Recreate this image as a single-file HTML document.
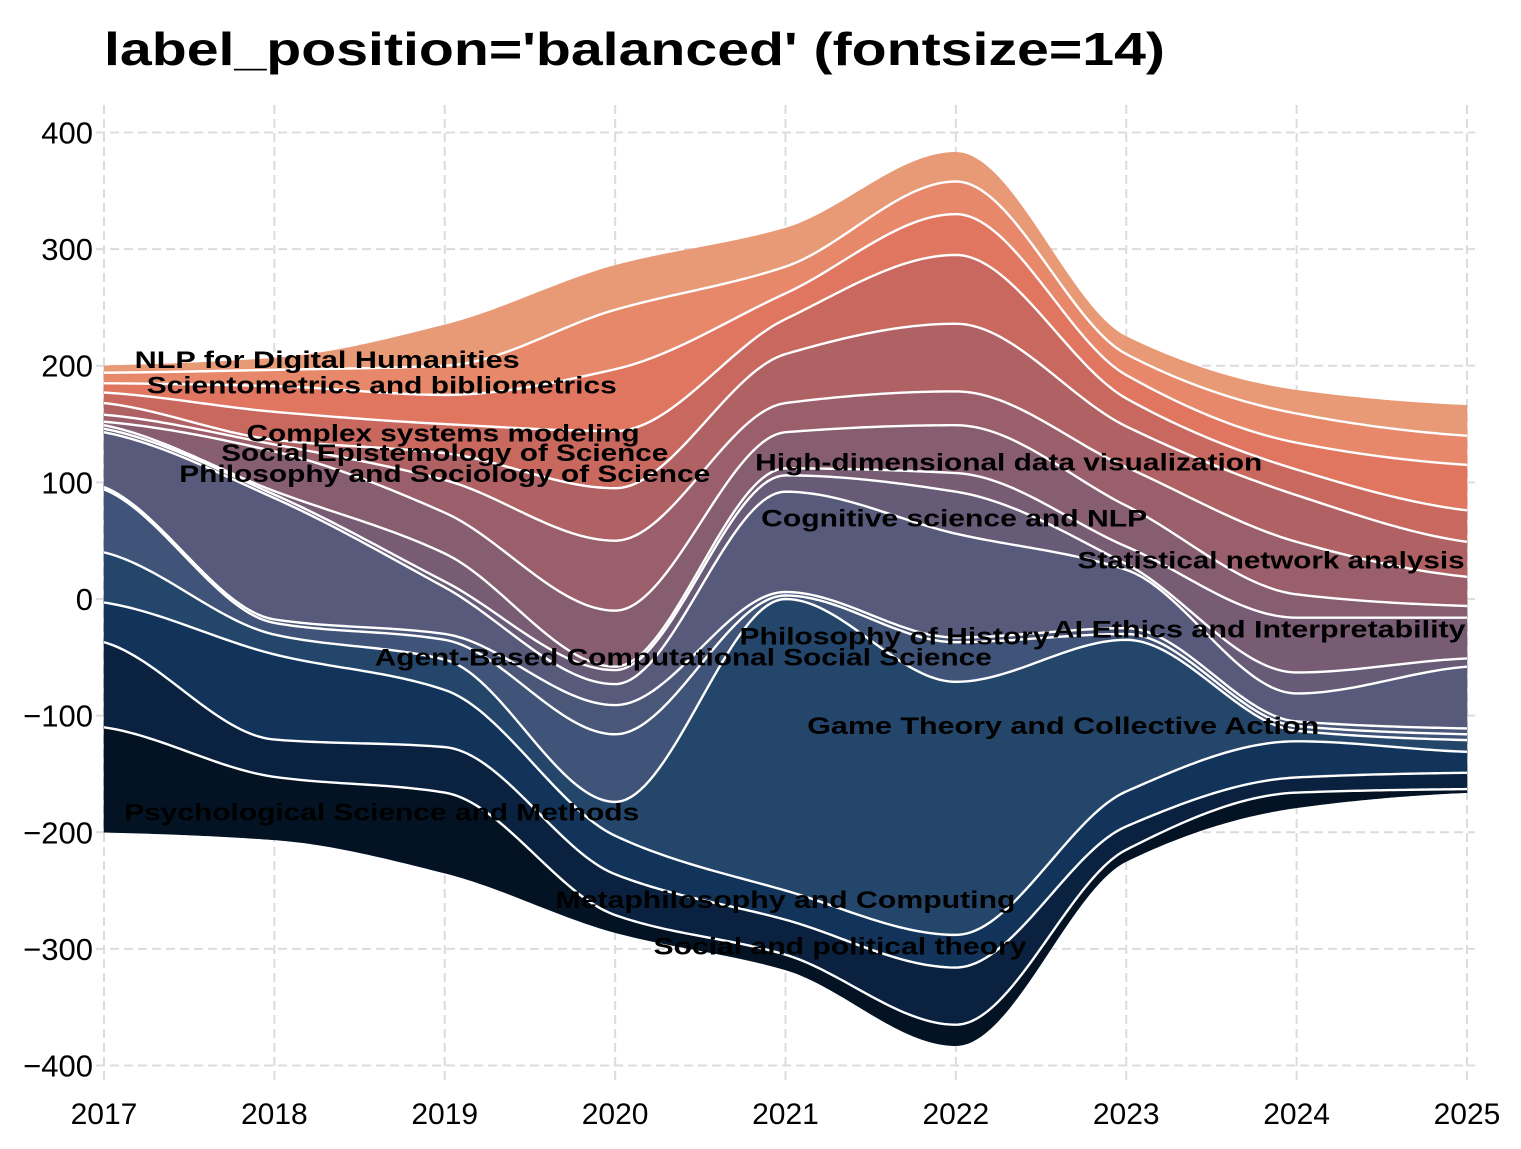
<!DOCTYPE html>
<html><head><meta charset="utf-8"><style>
html,body{margin:0;padding:0;background:#fff;}
svg{display:block;font-family:"Liberation Sans",sans-serif;}
</style></head><body>
<svg id="chart" width="1521" height="1149" viewBox="0 0 1521 1149" xmlns="http://www.w3.org/2000/svg">
<text x="104" y="65" font-size="46" font-weight="bold" textLength="1061" lengthAdjust="spacingAndGlyphs">label_position='balanced' (fontsize=14)</text>
<g id="grid"></g>
<g id="layers"></g>
<g id="axes"></g>
<g id="labels"></g>
</svg>
<script>
const years = [2017,2018,2019,2020,2021,2022,2023,2024,2025];
const seriesNames = ["Psychological Science and Methods","Social and political theory","Metaphilosophy and Computing","Game Theory and Collective Action","Agent-Based Computational Social Science","Philosophy of History","Cognitive science and NLP","High-dimensional data visualization","Philosophy and Sociology of Science","Social Epistemology of Science","Complex systems modeling","Statistical network analysis","AI Ethics and Interpretability","Scientometrics and bibliometrics","NLP for Digital Humanities","Other topics"];
const sPsych   = [90,54,69,15,13,18,10,13,3];
const sSocPol  = [73,32,39,35,30,49,20,13,14];
const sMeta    = [34,73,49,33,25,28,30,31,18];
const sGame    = [43,17,26,29,250,217,130,9,10];
const sAgent   = [54,10,17,58,3,34,5,4,5];
const sHist    = [2,3,5,25,3,4,5,4,5];
const sCog     = [47,104,40,18,86,89,50,24,53];
const sHighDim = [3,3,5,12,14,36,5,18,7];
const sPhilSoc = [3,3,24,3,6,16,15,47,35];
const sSocEp   = [3,34,35,48,31,41,35,20,10];
const sComplex = [6,6,28,60,25,29,33,45,25];
const sStat    = [10,4,23,45,42,58,35,40,30];
const sAI      = [9,24,25,49,30,59,24,22,27];
const sSciento = [8,22,25,53,22,35,20,23,39];
const sNLP     = [9,14,25,51,23,28,18,25,25];
const sTop     = [6,10,35,38,33,25,15,20,26];
const yTicks = [-400,-300,-200,-100,0,100,200,300,400];
const labelNames = ["NLP for Digital Humanities","Scientometrics and bibliometrics","Complex systems modeling","Social Epistemology of Science","Philosophy and Sociology of Science","High-dimensional data visualization","Cognitive science and NLP","Statistical network analysis","AI Ethics and Interpretability","Philosophy of History","Agent-Based Computational Social Science","Game Theory and Collective Action","Psychological Science and Methods","Metaphilosophy and Computing","Social and political theory"];
const labelYear = [2018.31,2018.63,2018.99,2019.0,2019.0,2022.31,2021.99,2023.85,2023.78,2021.64,2020.40,2022.63,2018.63,2021.0,2021.32];
const labelVal  = [205,183,142,125,107,117,69,33,-26,-32,-50,-109,-183,-258,-298];
const labelW    = [385,470,393,447,531,507,386,387,413,310,617,512,515,460,373];

const series = [sPsych,sSocPol,sMeta,sGame,sAgent,sHist,sCog,sHighDim,sPhilSoc,sSocEp,sComplex,sStat,sAI,sSciento,sNLP,sTop];
const colors = ["#031324","#0a2240","#12345a","#24466b","#3f5478","#4b5779","#575a7a","#675b77","#775c74","#875e70","#9a5f6a","#b06164","#c8685f","#e07560","#e8886a","#e89a76"];
const NS="http://www.w3.org/2000/svg";
const X0=104,X1=1467,Y0=599,PXU=1.1663;
const xs=y=>X0+(y-years[0])*(X1-X0)/(years[years.length-1]-years[0]);
const ys=v=>Y0-v*PXU;
function mk(tag,attrs,parent){const e=document.createElementNS(NS,tag);for(const k in attrs)e.setAttribute(k,attrs[k]);parent.appendChild(e);return e;}

const grid=document.getElementById('grid');
years.forEach(yr=>{const l=mk('line',{x1:xs(yr),x2:xs(yr),y1:105,y2:1082,stroke:'#dcdcdc','stroke-width':2,'stroke-dasharray':'9,5'},grid);

});
yTicks.forEach(t=>{const l=mk('line',{x1:96,x2:1475,y1:ys(t),y2:ys(t),stroke:'#dcdcdc','stroke-width':2,'stroke-dasharray':'9,5'},grid);

});

function pchip(xv,yv){const n=xv.length,h=[],d=[],m=new Array(n);
for(let i=0;i<n-1;i++){h.push(xv[i+1]-xv[i]);d.push((yv[i+1]-yv[i])/h[i]);}
for(let i=1;i<n-1;i++){if(d[i-1]*d[i]<=0)m[i]=0;else{const w1=2*h[i]+h[i-1],w2=h[i]+2*h[i-1];m[i]=(w1+w2)/(w1/d[i-1]+w2/d[i]);}}
m[0]=d[0]*0.5;m[n-1]=d[n-2]*0.5;
return x=>{let i=Math.min(n-2,Math.max(0,Math.floor(x-xv[0])));const t=(x-xv[i])/h[i],t2=t*t,t3=t2*t;
return (2*t3-3*t2+1)*yv[i]+(t3-2*t2+t)*h[i]*m[i]+(-2*t3+3*t2)*yv[i+1]+(t3-t2)*h[i]*m[i+1];};}

const totals=years.map((_,j)=>series.reduce((s,a)=>s+a[j],0));
const bounds=[years.map((_,j)=>-totals[j]/2)];
series.forEach((a,i)=>bounds.push(years.map((_,j)=>bounds[i][j]+a[j])));
const fns=bounds.map(b=>pchip(years,b));
const N=300,samp=[];for(let k=0;k<=N;k++)samp.push(years[0]+k*(years[years.length-1]-years[0])/N);
const layersG=document.getElementById('layers');
series.forEach((a,i)=>{let d='';samp.forEach((x,k)=>{d+=(k?'L':'M')+xs(x).toFixed(2)+','+ys(fns[i+1](x)).toFixed(2);});
for(let k=samp.length-1;k>=0;k--)d+='L'+xs(samp[k]).toFixed(2)+','+ys(fns[i](samp[k])).toFixed(2);
const p=mk('path',{d:d+'Z',fill:colors[i],stroke:colors[i],'stroke-width':0.6},layersG);

});
for(let i=1;i<series.length;i++){let d='';samp.forEach((x,k)=>{d+=(k?'L':'M')+xs(x).toFixed(2)+','+ys(fns[i](x)).toFixed(2);});
const l=mk('path',{d:d,fill:'none',stroke:'#fff','stroke-width':2.4},layersG);

}

const axes=document.getElementById('axes');
years.forEach(yr=>{const t=mk('text',{x:xs(yr),y:1124,'text-anchor':'middle','font-size':30},axes);t.textContent=yr;

});
yTicks.forEach(v=>{const t=mk('text',{x:93,y:ys(v)+11,'text-anchor':'end','font-size':31},axes);t.textContent=(v<0?'\u2212':'')+Math.abs(v);

});

const lg=document.getElementById('labels');
labelNames.forEach((n,i)=>{const t=mk('text',{x:xs(labelYear[i]),y:ys(labelVal[i])+8,'text-anchor':'middle','font-size':24,'font-weight':'bold',textLength:labelW[i],lengthAdjust:'spacingAndGlyphs'},lg);t.textContent=n;

});
</script>
</body></html>
